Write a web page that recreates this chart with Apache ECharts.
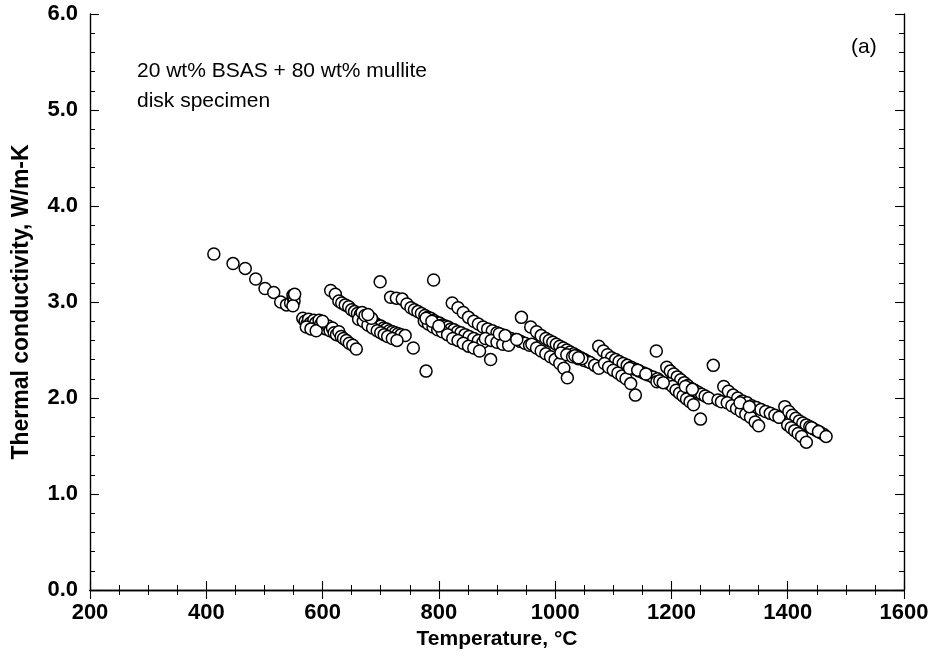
<!DOCTYPE html>
<html><head><meta charset="utf-8">
<script src="https://cdn.jsdelivr.net/npm/echarts@6/dist/echarts.min.js"></script>
<style>html,body{margin:0;padding:0;background:#fff}#c{width:937px;height:656px}</style>
</head><body><div id="c"></div>
<script>
// Data: [Temperature °C, Thermal conductivity W/m-K]
const run1 = [[413,3.50],[446,3.40],[467,3.35],[485,3.24],[501,3.14],[516,3.10],[528,3.00],[538,2.97],[545,2.99],[549,3.07],[550,3.04],[551,3.01],[549,2.96],[552,3.08]];
const run2 = [[566,2.83],[570,2.80],[573,2.77],[576,2.82],[579,2.78],[582,2.75],[585,2.81],[588,2.78],[591,2.74],[594,2.81],[597,2.77],[600,2.73],[603,2.76],[606,2.72],[610,2.75],[613,2.70],[617,2.73],[620,2.68],[624,2.66],[628,2.69],[632,2.64],[636,2.62],[641,2.60],[646,2.57],[652,2.55],[658,2.51],[572,2.74],[580,2.72],[589,2.70],[600,2.80]];
const run3 = [[614,3.12],[622,3.08],[628,3.01],[633,2.99],[639,2.97],[645,2.95],[650,2.92],[655,2.90],[660,2.88],[665,2.87],[670,2.85],[675,2.84],[680,2.82],[685,2.80],[690,2.78],[695,2.76],[700,2.75],[705,2.73],[710,2.72],[715,2.70],[720,2.69],[725,2.68],[730,2.67],[735,2.66],[742,2.65],[756,2.52],[662,2.82],[670,2.80],[678,2.76],[686,2.73],[694,2.70],[700,2.68],[706,2.66],[712,2.64],[720,2.62],[728,2.60],[668,2.89],[673,2.86],[684,2.83],[678,2.87]];
const run4 = [[717,3.05],[727,3.04],[737,3.03],[745,2.98],[752,2.94],[758,2.92],[764,2.90],[770,2.88],[776,2.86],[781,2.84],[786,2.83],[791,2.81],[796,2.79],[801,2.78],[806,2.76],[811,2.75],[816,2.74],[821,2.72],[826,2.71],[832,2.69],[838,2.68],[845,2.66],[852,2.64],[860,2.62],[868,2.60],[876,2.58],[775,2.80],[782,2.77],[790,2.74],[798,2.71],[806,2.69],[815,2.66],[824,2.62],[833,2.60],[842,2.57],[851,2.54],[860,2.52],[870,2.49],[889,2.40],[778,2.83],[788,2.80],[800,2.75]];
const run5 = [[823,2.99],[833,2.94],[842,2.89],[851,2.84],[860,2.80],[868,2.77],[876,2.74],[884,2.72],[892,2.70],[900,2.68],[908,2.66],[916,2.64],[924,2.62],[932,2.61],[940,2.59],[948,2.57],[956,2.55],[880,2.62],[890,2.60],[900,2.58],[910,2.56],[920,2.55],[904,2.67],[914,2.65],[934,2.61]];
const run6 = [[942,2.84],[958,2.74],[968,2.69],[976,2.65],[984,2.62],[990,2.60],[996,2.58],[1002,2.56],[1008,2.54],[1014,2.52],[1020,2.50],[1026,2.48],[1032,2.46],[1038,2.44],[1044,2.42],[1050,2.40],[1056,2.38],[960,2.56],[968,2.52],[976,2.49],[984,2.46],[992,2.43],[1000,2.40],[1008,2.36],[1015,2.31],[1021,2.21],[1010,2.47],[1020,2.45],[1030,2.43],[1040,2.41],[1050,2.39],[1060,2.37],[1068,2.34],[1075,2.31],[1034,2.44],[1046,2.41],[1040,2.42]];
const run7 = [[1075,2.54],[1083,2.49],[1090,2.45],[1097,2.42],[1104,2.40],[1110,2.38],[1117,2.36],[1124,2.34],[1131,2.32],[1138,2.30],[1145,2.28],[1152,2.26],[1160,2.24],[1168,2.22],[1176,2.20],[1085,2.36],[1092,2.32],[1100,2.29],[1108,2.26],[1115,2.23],[1122,2.20],[1130,2.15],[1138,2.03],[1128,2.31],[1142,2.29],[1156,2.25],[1174,2.49],[1175,2.17]];
const run8 = [[1192,2.32],[1198,2.28],[1204,2.25],[1210,2.22],[1216,2.19],[1222,2.16],[1228,2.13],[1234,2.10],[1240,2.08],[1246,2.06],[1252,2.04],[1258,2.02],[1264,2.00],[1195,2.15],[1202,2.12],[1208,2.08],[1214,2.05],[1220,2.02],[1226,1.99],[1232,1.96],[1238,1.93],[1250,1.78],[1272,2.34],[1180,2.18],[1186,2.16],[1280,1.98],[1286,1.96],[1224,2.12],[1236,2.09]];
const run9 = [[1290,2.12],[1298,2.07],[1306,2.03],[1314,2.00],[1322,1.97],[1330,1.95],[1338,1.92],[1346,1.90],[1354,1.88],[1362,1.86],[1370,1.84],[1378,1.82],[1386,1.80],[1296,1.95],[1304,1.92],[1312,1.89],[1320,1.86],[1328,1.83],[1336,1.80],[1344,1.75],[1350,1.71],[1318,1.95],[1334,1.91],[1385,1.80]];
const run10 = [[1395,1.91],[1402,1.86],[1408,1.82],[1414,1.79],[1420,1.76],[1426,1.74],[1432,1.72],[1438,1.70],[1444,1.68],[1450,1.66],[1456,1.64],[1462,1.62],[1400,1.72],[1406,1.69],[1412,1.66],[1418,1.63],[1424,1.60],[1432,1.54],[1441,1.69],[1453,1.65],[1466,1.60]];
const outliers = [[699,3.21],[791,3.23],[778,2.28]];

const xTicks = [200,400,600,800,1000,1200,1400,1600];
const yTicks = [0,1,2,3,4,5,6];

const FONT = '"Liberation Sans", Arial, sans-serif';
const allData = [].concat(run1,run2,run3,run4,run5,run6,run7,run8,run9,run10,outliers);

const chart = echarts.init(document.getElementById('c'), null, {renderer:'canvas'});
const axisLineStyle = {lineStyle:{color:'#000', width:1.4}};
const tickCommon = {inside:true, lineStyle:{color:'#000', width:1.1}};
const minorX = {show:true, splitNumber:4, length:5, lineStyle:{color:'#000', width:1}};
const minorY = {show:true, splitNumber:5, length:5, lineStyle:{color:'#000', width:1}};
chart.setOption({
  animation:false,
  backgroundColor:'#fff',
  grid:{left:90, right:33, top:14, bottom:66},
  xAxis:[{
    type:'value', min:xTicks[0], max:xTicks[xTicks.length-1], interval:200,
    name:'Temperature, °C', nameLocation:'middle', nameGap:35,
    nameTextStyle:{fontFamily:FONT, fontSize:21, fontWeight:'bold', color:'#000'},
    axisLine:axisLineStyle,
    axisTick:Object.assign({length:9}, tickCommon),
    minorTick:minorX,
    axisLabel:{fontFamily:FONT, fontSize:22, fontWeight:'bold', color:'#000', margin:12, formatter:v=>String(v)},
    splitLine:{show:false}
  },{
    type:'value', position:'top', min:xTicks[0], max:xTicks[xTicks.length-1], interval:200,
    axisLine:axisLineStyle,
    axisTick:Object.assign({length:9}, tickCommon),
    minorTick:minorX,
    axisLabel:{show:false}, splitLine:{show:false}
  }],
  yAxis:[{
    type:'value', min:yTicks[0], max:yTicks[yTicks.length-1], interval:1,
    name:'Thermal conductivity, W/m-K', nameLocation:'middle', nameGap:57, nameRotate:90,
    nameTextStyle:{fontFamily:FONT, fontSize:23, fontWeight:'bold', color:'#000'},
    axisLine:axisLineStyle,
    axisTick:Object.assign({length:9}, tickCommon),
    minorTick:minorY,
    axisLabel:{fontFamily:FONT, fontSize:22, fontWeight:'bold', color:'#000', margin:12, formatter:v=>v.toFixed(1)},
    splitLine:{show:false}
  },{
    type:'value', position:'right', min:yTicks[0], max:yTicks[yTicks.length-1], interval:1,
    axisLine:axisLineStyle,
    axisTick:Object.assign({length:9}, tickCommon),
    minorTick:minorY,
    axisLabel:{show:false}, splitLine:{show:false}
  }],
  series:[{
    type:'scatter', xAxisIndex:0, yAxisIndex:0,
    data:allData, symbol:'circle', symbolSize:12,
    itemStyle:{color:'#fff', borderColor:'#000', borderWidth:1.5, opacity:1}
  }],
  graphic:[
    {type:'text', left:137, top:61, style:{text:'20 wt% BSAS + 80 wt% mullite', fontFamily:FONT, fontSize:21, fill:'#000'}},
    {type:'text', left:137, top:91, style:{text:'disk specimen', fontFamily:FONT, fontSize:21, fill:'#000'}},
    {type:'text', left:851, top:37, style:{text:'(a)', fontFamily:FONT, fontSize:21, fill:'#000'}}
  ]
});
</script></body></html>
